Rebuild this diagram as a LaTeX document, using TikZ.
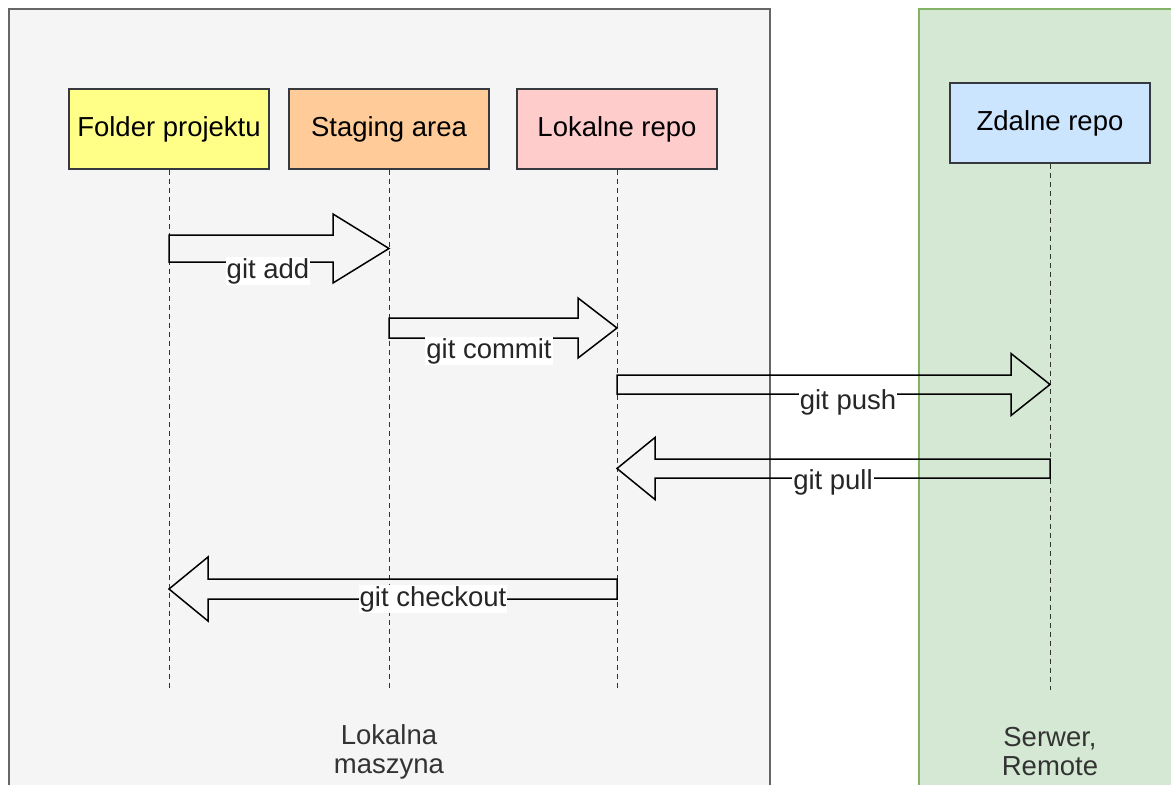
\documentclass[tikz,border=0pt]{standalone}
\usepackage{fontspec}
\setmainfont{Liberation Sans}
\usepackage{tikz}
\usetikzlibrary{calc}
\definecolor{zonegray}{HTML}{F5F5F5}
\definecolor{zonegrayline}{HTML}{666666}
\definecolor{zonegreen}{HTML}{D5E8D4}
\definecolor{zonegreenline}{HTML}{82B366}
\definecolor{boxline}{HTML}{36393D}
\definecolor{folderfill}{HTML}{FFFF88}
\definecolor{stagefill}{HTML}{FFCC99}
\definecolor{localfill}{HTML}{FFCCCC}
\definecolor{remotefill}{HTML}{CCE5FF}
\definecolor{labelgray}{HTML}{333333}
\newcommand{\gitfont}{\fontsize{27.5}{29}\selectfont}
% block arrow: tail, tip, shaft half-width, head half-width, head length
\newcommand{\flexarrow}[5]{%
  \coordinate (hb) at ($(#2)!#5!(#1)$);
  \draw[flex] ([yshift=#3]#1) -- ([yshift=#3]hb) -- ([yshift=#4]hb) -- (#2)
    -- ([yshift=-#4]hb) -- ([yshift=-#3]hb) -- ([yshift=-#3]#1) -- cycle;}
\tikzset{
  box/.style={draw=boxline,line width=1.4pt,minimum width=200pt,minimum height=80pt,
    inner sep=0pt,font=\gitfont},
  lifeline/.style={line width=1pt,dash pattern=on 5pt off 4pt,black!80},
  flex/.style={line width=1.5pt,black,line join=miter},
  lbl/.style={fill=white,inner sep=1pt,font=\gitfont,text=black!85},
  zonelbl/.style={align=center,font=\gitfont,text=labelgray}
}
\begin{document}
\begin{tikzpicture}[x=1pt,y=-1pt]
  \useasboundingbox (0,0) rectangle (1171,785);
  \fill[white] (0,0) rectangle (1171,785);
  \draw[fill=zonegray,draw=zonegrayline,line width=1.4pt] (9,9) rectangle (770,800);
  \draw[fill=zonegreen,draw=zonegreenline,line width=1.4pt] (919,9) rectangle (1190,800);
  \node[zonelbl] (local) at (389,752) {Lokalna\\maszyna};
  \node[zonelbl] (server) at (1050,752) {Serwer,\\Remote};

  \node[box,fill=folderfill] (folder) at (169,129) {Folder projektu};
  \node[box,fill=stagefill] (stage) at (389,129) {Staging area};
  \node[box,fill=localfill] (lrepo) at (617,129) {Lokalne repo};
  \node[box,fill=remotefill] (rrepo) at (1050,123) {Zdalne repo};

  \foreach \n in {folder,stage,lrepo,rrepo}
    \draw[lifeline] (\n.south) -- (\n.south |- 0,690);

  \coordinate (add-s) at (folder |- 0,248.5);
  \coordinate (add-e) at (stage |- 0,248.5);
  \coordinate (commit-s) at (stage |- 0,328);
  \coordinate (commit-e) at (lrepo |- 0,328);
  \coordinate (push-s) at (lrepo |- 0,384.5);
  \coordinate (push-e) at (rrepo |- 0,384.5);
  \coordinate (pull-s) at (rrepo |- 0,468.5);
  \coordinate (pull-e) at (lrepo |- 0,468.5);
  \coordinate (co-s) at (lrepo |- 0,589);
  \coordinate (co-e) at (folder |- 0,589);

  \flexarrow{add-s}{add-e}{13.5pt}{34.5pt}{56pt}
  \flexarrow{commit-s}{commit-e}{10pt}{30pt}{39pt}
  \flexarrow{push-s}{push-e}{9.5pt}{31pt}{39pt}
  \flexarrow{pull-s}{pull-e}{9.5pt}{31pt}{38pt}
  \flexarrow{co-s}{co-e}{10pt}{32pt}{39pt}

  \node[lbl] (add) at (268,271) {git add};
  \node[lbl] (commit) at (489,351) {git commit};
  \node[lbl] (push) at (848,402) {git push};
  \node[lbl] (pull) at (833,482) {git pull};
  \node[lbl] (checkout) at (433,599) {git checkout};
\end{tikzpicture}
\end{document}
